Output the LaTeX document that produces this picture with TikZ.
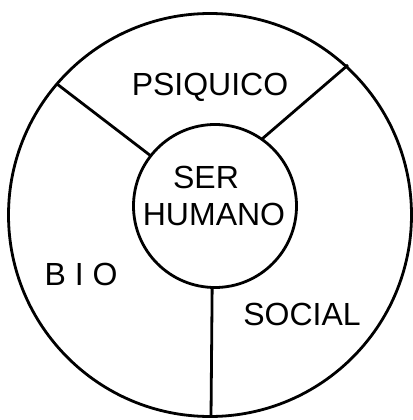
\documentclass[tikz,border=0pt]{standalone}
\usepackage{fontspec}
\setmainfont{Liberation Sans}
\begin{document}
\begin{tikzpicture}[x=1pt,y=-1pt,
  ring/.style={circle,draw,line width=2.8pt,inner sep=0pt,outer sep=0pt},
  divider/.style={line width=2.8pt},
  lbl/.style={anchor=base,inner sep=0pt,font=\fontsize{32}{36}\selectfont}]
\useasboundingbox (0,0) rectangle (412,420);
\node[ring,minimum size=403pt] (outer) at (210,215) {};
\node[ring,minimum size=163pt] (ser) at (215,206) {};
\coordinate (ul) at (57,84);
\coordinate (ur) at (348,65);
\coordinate (bt) at (211,417);
\draw[divider] (ser.142.7) -- (ul);
\draw[divider] (ser.55.9) -- (ur);
\draw[divider] (ser.268) -- (bt);
\node[lbl] (psi) at (210,95) {PSIQUICO};
\node[lbl] (s1) at (206,188) {SER};
\node[lbl] (s2) at (214,225) {HUMANO};
\node[lbl] (bio) at (81,285) {B I O};
\node[lbl] (soc) at (302,325) {SOCIAL};
\end{tikzpicture}
\end{document}
